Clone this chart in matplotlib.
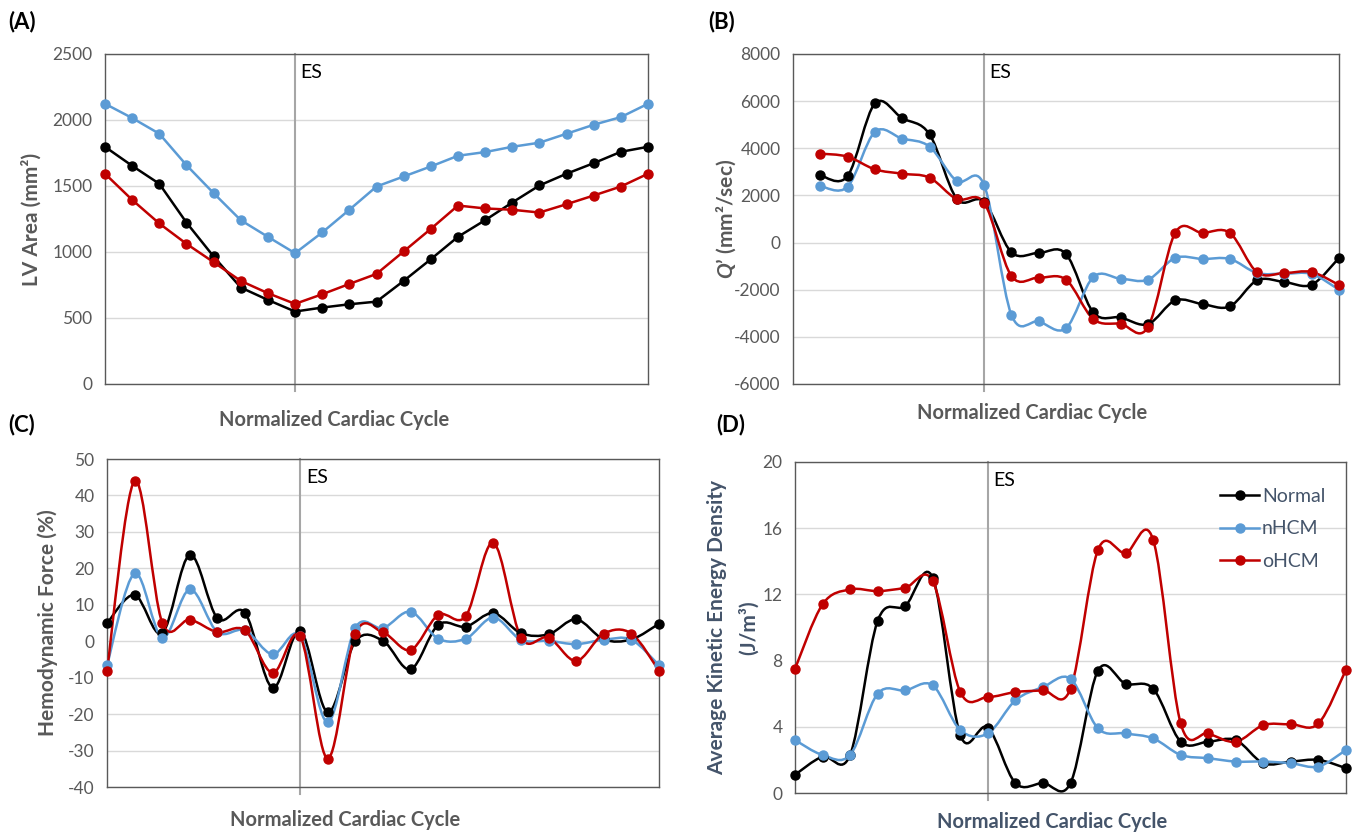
import matplotlib
matplotlib.use("Agg")
import matplotlib.pyplot as plt
import numpy as np
from matplotlib.path import Path
from matplotlib.patches import PathPatch
from matplotlib.lines import Line2D

plt.rcParams['font.family'] = ['Lato', 'DejaVu Sans']
plt.rcParams['mathtext.fontset'] = 'custom'
plt.rcParams['mathtext.it'] = 'Lato:italic:bold'
plt.rcParams['mathtext.rm'] = 'Lato:bold'
plt.rcParams['axes.unicode_minus'] = False

series = ["Normal", "nHCM", "oHCM"]
colors = ["#000000", "#5B9BD5", "#C00000"]
es_index = 7

# (A) LV area, mm^2 -- 21 frames
area_normal = [1797, 1653, 1517, 1223, 966, 731, 637, 549, 579, 604, 624, 781, 945, 1115,
               1241, 1375, 1504, 1593, 1673, 1759, 1797]
area_nhcm = [2123, 2015, 1896, 1658, 1446, 1241, 1115, 991, 1148, 1320, 1496, 1572, 1648,
             1729, 1757, 1797, 1828, 1896, 1964, 2022, 2123]
area_ohcm = [1593, 1395, 1216, 1062, 923, 781, 688, 607, 680, 758, 834, 1004, 1175, 1352,
             1330, 1320, 1299, 1362, 1428, 1496, 1593]

# (B) Q' mm^2/sec -- frames 1..20
q_normal = [2851, 2823, 5901, 5277, 4596, 1858, 1730, -411, -440, -482, -2965, -3177,
            -3461, -2454, -2610, -2709, -1603, -1674, -1787, -652]
q_nhcm = [2397, 2369, 4695, 4411, 4071, 2610, 2440, -3064, -3348, -3631, -1461, -1532,
          -1574, -652, -695, -695, -1291, -1319, -1333, -2000]
q_ohcm = [3773, 3645, 3106, 2922, 2752, 1844, 1688, -1418, -1489, -1574, -3248, -3447,
          -3589, 411, 411, 411, -1262, -1291, -1248, -1801]

# (C) hemodynamic force, %
hf_normal = [4.9, 12.7, 2.2, 23.7, 6.3, 7.8, -12.8, 2.8, -19.5, 0.0, 0.1, -7.7, 4.5, 4.0,
             7.7, 2.2, 1.9, 6.0, 0.5, 0.5, 4.8]
hf_nhcm = [-6.6, 18.6, 1.0, 14.2, 2.5, 3.0, -3.6, 1.5, -22.2, 3.7, 3.6, 8.1, 0.7, 0.7,
           6.5, 0.4, 0.1, -0.8, 0.4, 0.4, -6.6]
hf_ohcm = [-8.1, 44.0, 5.1, 5.9, 2.5, 3.0, -8.7, 1.3, -32.2, 2.1, 2.4, -2.4, 7.2, 6.9,
           27.0, 1.0, 1.0, -5.4, 2.1, 2.1, -8.1]

# (D) average kinetic energy density, J/m^3
ke_normal = [1.1, 2.2, 2.3, 10.4, 11.3, 13.0, 3.5, 3.95, 0.6, 0.6, 0.6, 7.4, 6.6, 6.3,
             3.1, 3.1, 3.2, 1.8, 1.9, 2.0, 1.5]
ke_nhcm = [3.2, 2.3, 2.3, 6.0, 6.2, 6.5, 3.8, 3.6, 5.6, 6.4, 6.9, 3.9, 3.6, 3.3, 2.3,
           2.1, 1.9, 1.9, 1.8, 1.6, 2.6]
ke_ohcm = [7.5, 11.4, 12.3, 12.2, 12.4, 12.8, 6.1, 5.8, 6.1, 6.2, 6.3, 14.7, 14.5, 15.3,
           4.2, 3.6, 3.1, 4.1, 4.15, 4.2, 7.45]

GRAY = "#595959"
SLATE = "#44546A"


def smooth_path(x, y):
    # Excel style smoothed line: cubic bezier through the points
    pts = np.column_stack([x, y]).astype(float)
    n = len(pts)
    verts = [pts[0]]
    codes = [Path.MOVETO]
    for i in range(n - 1):
        p0 = pts[i - 1] if i > 0 else pts[i]
        p1 = pts[i]
        p2 = pts[i + 1]
        p3 = pts[i + 2] if i + 2 < n else pts[i + 1]
        verts += [p1 + (p2 - p0) / 6, p2 - (p3 - p1) / 6, p2]
        codes += [Path.CURVE4] * 3
    return Path(verts, codes)


def panel(rect, data, x, yticks, ylabel, ylab_x, xlab_pos, label_color=GRAY, smooth=True):
    ax = fig.add_axes(rect)
    for vals, c in zip(data, colors):
        if smooth:
            ax.add_patch(PathPatch(smooth_path(x, vals), fc="none", ec=c, lw=1.8, zorder=3))
        else:
            ax.plot(x, vals, color=c, lw=1.8, zorder=3)
        ax.plot(x, vals, "o", color=c, ms=6.5, zorder=4, clip_on=False)
    ax.set_xlim(0, 20)
    ax.set_ylim(yticks[0], yticks[-1])
    ax.set_yticks(yticks)
    ax.set_xticks([])
    ax.yaxis.grid(True, color="#D9D9D9", lw=1)
    ax.set_axisbelow(True)
    ax.tick_params(axis="y", length=0, pad=9, labelsize=12.5, labelcolor=GRAY)
    for s in ax.spines.values():
        s.set_color(GRAY)
        s.set_linewidth(1.0)
    ax.axvline(es_index, ymin=-0.02, ymax=1, color="#A6A6A6", lw=1.5, clip_on=False, zorder=2)
    ax.annotate("ES", xy=(es_index, 1), xycoords=("data", "axes fraction"),
                xytext=(4, -7), textcoords="offset points", ha="left", va="top",
                fontsize=14, color="black")
    ax.set_ylabel(ylabel, fontsize=15, fontweight="bold", color=label_color, linespacing=1.7)
    ax.yaxis.set_label_coords(ylab_x, 0.5)
    ax.set_xlabel("Normalized Cardiac Cycle", fontsize=14.5, fontweight="bold", color=label_color)
    ax.xaxis.set_label_coords(*xlab_pos)
    return ax


fig = plt.figure(figsize=(13.54, 8.34), dpi=100)
W, H = 1354, 834


def rect(l, r, t, b):
    return [l / W, 1 - b / H, (r - l) / W, (b - t) / H]


x21 = np.arange(len(area_normal))
x20 = np.arange(1, len(q_normal) + 1)

panel(rect(105, 648, 54, 384), [area_normal, area_nhcm, area_ohcm], x21,
      np.arange(0, 2501, 500), "LV Area (mm²)", -0.116, (0.422, -0.079), smooth=False)
panel(rect(793, 1339, 54, 384), [q_normal, q_nhcm, q_ohcm], x20,
      np.arange(-6000, 8001, 2000), r"$\mathit{Q}$’ (mm²/sec)", -0.10, (0.438, -0.058))
panel(rect(107, 659, 459, 787), [hf_normal, hf_nhcm, hf_ohcm], x21,
      np.arange(-40, 51, 10), "Hemodynamic Force (%)", -0.089, (0.431, -0.07))
axd = panel(rect(795, 1346, 462, 793), [ke_normal, ke_nhcm, ke_ohcm], x21,
            np.arange(0, 21, 4), "Average Kinetic Energy Density\n(J/m³)", -0.065,
            (0.466, -0.057), label_color=SLATE)

handles = [Line2D([], [], color=c, lw=1.8, marker="o", ms=6.5) for c in colors]
axd.legend(handles, series, loc="upper left", bbox_to_anchor=(0.74, 0.975), frameon=False,
           fontsize=14, labelcolor=SLATE, handlelength=2.0, handletextpad=0.15,
           labelspacing=0.8)

for lab, xp, yp in [("(A)", 8, 22), ("(B)", 708, 22), ("(C)", 8, 425), ("(D)", 716, 425)]:
    fig.text(xp / W, 1 - yp / H, lab, fontsize=16, fontweight="bold", va="center", ha="left")

fig.savefig("out.png", dpi=100)
